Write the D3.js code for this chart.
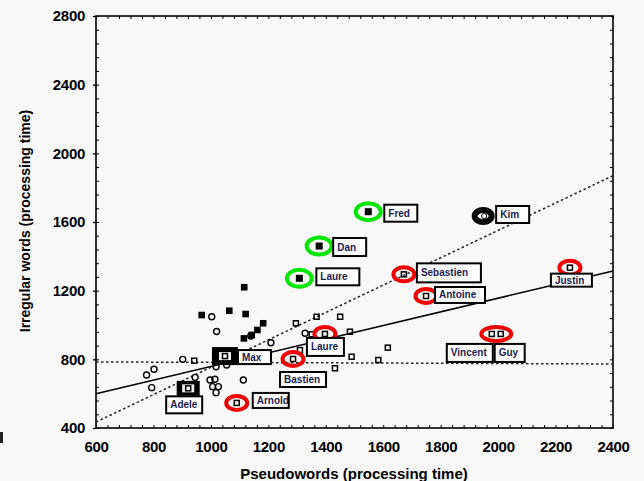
<!DOCTYPE html>
<html>
<head>
<meta charset="utf-8">
<script src="https://cdn.jsdelivr.net/npm/d3@7"></script>
<style>
body { margin: 0; background: #f8f8f8; }
text { font-family: "Liberation Sans", Arial, sans-serif; }
</style>
</head>
<body>
<script>
const width = 644;
const height = 481;

// unnamed children: [pseudowords, irregular words]
const filledSquares = [[1116,1220],[968,1058],[1064,1083],[1121,1064],[1182,1010],[1162,971],[1142,942],[1115,922]];
const openCircles = [[1003,1048],[1020,962],[1139,936],[1209,897],[902,800],[802,742],[776,709],[794,635],[945,695],
  [997,680],[1014,684],[1006,641],[1026,641],[1018,606],[1113,680],[1018,757],[1055,767],[1328,952]];
const openSquares = [[942,792],[1296,1010],[1368,1048],[1450,1048],[1351,946],[1484,961],[1310,854],[1490,815],
  [1616,868],[1583,796],[1432,748]];

// named children
const names  = ['Fred','Dan','Laure','Kim','Sebastien','Antoine','Justin','Laure','Bastien','Arnold','Vincent','Guy','Max','Adele'];
const namedX = [1548,1377,1308,1948,1672,1749,2250,1397,1286,1090,1978,2009,1049,921];
const namedY = [1660,1460,1272,1635,1295,1169,1334,948,802,546,948,948,819,631];
const namedGroup = ['green','green','green','black','red','red','red','red','red','red','red','red','box','box'];
const ringId = ['Fred','Dan','Laure1','Kim','Sebastien','Antoine','Justin','Laure2','Bastien','Arnold','VG','VG','Max','Adele'];

// fitted lines (endpoints)
const solidLine = [[600,600],[2400,1315]];
const dashUpper = [[600,435],[2400,1870]];
const dashFlat = [[600,785],[2400,773]];

const xTicks = d3.range(600, 2401, 200);
const yTicks = d3.range(400, 2801, 400);

// label box layout (pixels, relative to point)
const labelDx = [16,14,17,13,13,9,-19,-18,-13,16,-45,-6,13,-22];
const labelDy = [-7,-8,-10,-10,-11,-9,6,4,13,-10,10,10,-6,8];
const labelW  = [33,33,43,33,64,50,41,37,46,36,46,30,33,36];
const labelH  = [17,18,17,17,19,16,13,18,15,15,18,18,14,17];

const svg = d3.select('body').append('svg').attr('width', width).attr('height', height);

const x = d3.scaleLinear().domain([600,2400]).range([96,613]);
const y = d3.scaleLinear().domain([400,2800]).range([428,16]);

// minor ticks all round, pointing in
svg.append('g').attr('transform','translate(0,428)')
  .call(d3.axisBottom(x).tickValues(d3.range(600,2401,40)).tickSize(-3).tickFormat(''))
  .call(g => g.select('.domain').remove());
svg.append('g').attr('transform','translate(0,16)')
  .call(d3.axisTop(x).tickValues(d3.range(600,2401,40)).tickSize(-3).tickFormat(''))
  .call(g => g.select('.domain').remove());
svg.append('g').attr('transform','translate(96,0)')
  .call(d3.axisLeft(y).tickValues(d3.range(400,2801,80)).tickSize(-3).tickFormat(''))
  .call(g => g.select('.domain').remove());
svg.append('g').attr('transform','translate(613,0)')
  .call(d3.axisRight(y).tickValues(d3.range(400,2801,80)).tickSize(-3).tickFormat(''))
  .call(g => g.select('.domain').remove());

// major labels
const xAxis = svg.append('g').attr('transform','translate(0,428)')
  .call(d3.axisBottom(x).tickValues(xTicks).tickSize(0).tickPadding(13).tickFormat(d3.format('d')));
const yAxis = svg.append('g').attr('transform','translate(96,0)')
  .call(d3.axisLeft(y).tickValues(yTicks).tickSize(3).tickPadding(8).tickFormat(d3.format('d')));
[xAxis, yAxis].forEach(a => {
  a.select('.domain').remove();
  a.selectAll('text').attr('font-size', 15).attr('font-weight','bold')
    .attr('font-family','"Liberation Sans", Arial, sans-serif').attr('fill','#000')
    .attr('letter-spacing', -0.3);
  a.selectAll('line').attr('stroke-width', 1.3);
});

svg.selectAll('.tick line').attr('stroke','#000');

svg.append('rect').attr('x',96).attr('y',16).attr('width',517).attr('height',412)
  .attr('fill','none').attr('stroke','#000').attr('stroke-width',1.6);

// lines
const line = d3.line().x(d => x(d[0])).y(d => y(d[1]));
svg.append('path').attr('d', line(solidLine)).attr('fill','none').attr('stroke','#000').attr('stroke-width',1.5);
svg.append('path').attr('d', line(dashUpper)).attr('fill','none').attr('stroke','#222').attr('stroke-width',1.5).attr('stroke-dasharray','2.5,2.5');
svg.append('path').attr('d', line(dashFlat)).attr('fill','none').attr('stroke','#222').attr('stroke-width',1.5).attr('stroke-dasharray','2.5,2.5');

// plain points
svg.selectAll('.circ').data(openCircles).enter().append('circle')
  .attr('cx', d => x(d[0])).attr('cy', d => y(d[1])).attr('r', 3)
  .attr('fill','none').attr('stroke','#000').attr('stroke-width',1.4);
svg.selectAll('.osq').data(openSquares).enter().append('rect')
  .attr('x', d => x(d[0]) - 2.5).attr('y', d => y(d[1]) - 2.5).attr('width',5).attr('height',5)
  .attr('fill','none').attr('stroke','#000').attr('stroke-width',1.5);
svg.selectAll('.fsq').data(filledSquares).enter().append('rect')
  .attr('x', d => x(d[0]) - 3.3).attr('y', d => y(d[1]) - 3.3).attr('width',6.6).attr('height',6.6)
  .attr('fill','#000');

// named points
const named = names.map((n,i) => ({name:n, vx:namedX[i], vy:namedY[i], group:namedGroup[i], ring:ringId[i], i:i}));
const rings = d3.groups(named, d => d.ring).map(([k, pts]) => ({
  group: pts[0].group,
  cx: d3.mean(pts, p => x(p.vx)),
  cy: d3.mean(pts, p => y(p.vy)),
  extra: x(d3.max(pts, p => p.vx)) - x(d3.min(pts, p => p.vx))
}));

const ringColor = {green:'#00e600', red:'#f00000', black:'#000'};
rings.forEach(r => {
  if (r.group === 'box') {
    const w = r.cx < 200 ? 23 : 26, h = r.cx < 200 ? 15 : 18;
    svg.append('rect').attr('x', r.cx - w/2).attr('y', r.cy - h/2).attr('width', w).attr('height', h).attr('fill','#000');
    svg.append('rect').attr('x', r.cx - 6).attr('y', r.cy - 4).attr('width', 12).attr('height', 8).attr('fill','#f4f4f4');
  } else {
    const rx = r.group === 'green' ? 12.5 : (r.group === 'black' ? 8.5 : 10.5);
    const ry = r.group === 'green' ? 8.5 : (r.group === 'black' ? 6 : 7);
    svg.append('ellipse').attr('cx', r.cx).attr('cy', r.cy).attr('rx', rx + r.extra/2).attr('ry', ry)
      .attr('fill','none').attr('stroke', ringColor[r.group]).attr('stroke-width', r.group === 'black' ? 6 : 4);
  }
});

named.forEach(d => {
  const px = x(d.vx), py = y(d.vy);
  if (d.group === 'green') {
    svg.append('rect').attr('x', px - 3.5).attr('y', py - 3.5).attr('width',7).attr('height',7).attr('fill','#000');
  } else if (d.group === 'black') {
    svg.append('circle').attr('cx', px + 1).attr('cy', py).attr('r', 2.5).attr('fill','#fff').attr('stroke','#000').attr('stroke-width',1);
  } else {
    svg.append('rect').attr('x', px - 2.5).attr('y', py - 2.5).attr('width',5).attr('height',5)
      .attr('fill','none').attr('stroke','#000').attr('stroke-width',1.5);
  }
});

// label boxes
named.forEach(d => {
  const i = d.i;
  const bx = x(d.vx) + labelDx[i], by = y(d.vy) + labelDy[i];
  svg.append('rect').attr('x', bx).attr('y', by).attr('width', labelW[i]).attr('height', labelH[i])
    .attr('fill','#fff').attr('stroke','#000').attr('stroke-width',2);
  svg.append('text').attr('x', bx + 4).attr('y', by + labelH[i]/2 + 3.5)
    .attr('font-size', 10).attr('font-weight','bold').attr('fill','#1b1b55').text(d.name);
});

// axis titles
svg.append('text').attr('x', 354).attr('y', 479).attr('text-anchor','middle')
  .attr('font-size', 15).attr('font-weight','bold').text('Pseudowords (processing time)');
svg.append('text').attr('transform','translate(30,221) rotate(-90)').attr('text-anchor','middle')
  .attr('font-size', 14).attr('font-weight','bold').text('Irregular words (processing time)');

// stray scan mark at the left edge
svg.append('rect').attr('x', 0).attr('y', 432).attr('width', 3).attr('height', 11).attr('fill','#222');
</script>
</body>
</html>
